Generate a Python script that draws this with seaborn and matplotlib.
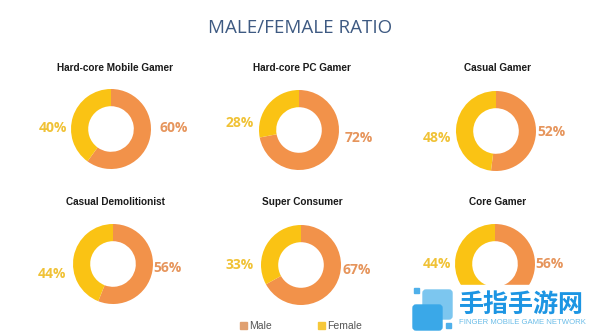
import matplotlib
matplotlib.use("Agg")
import matplotlib.pyplot as plt
import matplotlib.patches as mpatches
import seaborn as sns

# ---- data ----
segments = ["Hard-core Mobile Gamer", "Hard-core PC Gamer", "Casual Gamer",
            "Casual Demolitionist", "Super Consumer", "Core Gamer"]
male_pct = [60, 72, 52, 56, 67, 56]
female_pct = [40, 28, 48, 44, 33, 44]
series = ["Male", "Female"]
title = "MALE/FEMALE RATIO"

sns.set_theme(style="white")
plt.rcParams['font.family'] = ['Open Sans', 'DejaVu Sans']

W, H = 600, 336
fig = plt.figure(figsize=(W / 100, H / 100), dpi=100)
fig.patch.set_facecolor("white")

pal = sns.color_palette(["#F2924A", "#FAC314"])
label_cols = ["#E6955C", "#F0C236"]

# layout (pixels): donut centres, title positions, label offsets
centres = [(111, 129), (299, 130), (496, 131), (113, 264), (301, 265), (495, 264)]
title_pos = [(115, 68), (302, 68), (498, 68), (115, 202), (302, 202), (498, 202)]
offsets = [((-58, -1), (63, -1)), ((-59, -7), (60, 8)), ((-59, 7), (55, 1)),
           ((-61, 10), (54, 4)), ((-61, 0), (56, 5)), ((-58, 0), (55, 0))]
R = 40.0

def fx(x):
    return x / W

def fy(y):
    return 1 - y / H

fig.text(fx(300), fy(28), title, ha="center", va="center", fontsize=13.5,
         color="#3E5A82")

for i, seg in enumerate(segments):
    cx, cy = centres[i]
    aw, ah = 4 * R, 2.5 * R
    ax = fig.add_axes([fx(cx - aw / 2), fy(cy + ah / 2), aw / W, ah / H])
    ax.pie([male_pct[i], female_pct[i]], colors=pal, startangle=90,
           counterclock=False, radius=1,
           wedgeprops=dict(width=0.43, edgecolor="none"))
    ax.set_xlim(-2, 2)
    ax.set_ylim(-1.25, 1.25)
    ax.set_aspect("equal")
    ax.axis("off")
    (fdx, fdy), (mdx, mdy) = offsets[i]
    ax.text(mdx / R, -mdy / R, f"{male_pct[i]}%", ha="center", va="center",
            fontsize=10, fontweight="bold", color=label_cols[0])
    ax.text(fdx / R, -fdy / R, f"{female_pct[i]}%", ha="center", va="center",
            fontsize=10, fontweight="bold", color=label_cols[1])
    tx, ty = title_pos[i]
    fig.text(fx(tx), fy(ty), seg, ha="center", va="center", fontsize=7.2,
             fontweight="bold", color="#1a1a1a", family=["Liberation Sans"])

# legend
handles = [mpatches.Patch(color=c, label=s) for c, s in zip(["#E0A070", "#F6C83A"], series)]
leg = fig.legend(handles=handles, loc="center", bbox_to_anchor=(fx(301), fy(326)),
                 ncol=2, frameon=False, handlelength=0.6, handleheight=0.6,
                 handletextpad=0.2, columnspacing=4.5,
                 prop=dict(family="Liberation Sans", size=7.5))
for t in leg.get_texts():
    t.set_color("#555555")

# watermark
wm = fig.add_axes([0, 0, 1, 1], zorder=10)
wm.set_xlim(0, W)
wm.set_ylim(H, 0)
wm.axis("off")
wm.patch.set_alpha(0)
wm.add_patch(mpatches.Rectangle((405, 285), 195, 51, color="white", zorder=1))
wm.add_patch(mpatches.FancyBboxPatch((423, 290), 29, 29, boxstyle="round,pad=0,rounding_size=3",
                                     color="#7CC6EF", zorder=2))
wm.add_patch(mpatches.FancyBboxPatch((413, 305), 29, 25, boxstyle="round,pad=0,rounding_size=3",
                                     color="#3AA8E8", zorder=3))
wm.add_patch(mpatches.Rectangle((414, 288), 5, 5, color="#4FB0EA", zorder=3))
wm.add_patch(mpatches.Rectangle((446, 323), 5, 5, color="#4FB0EA", zorder=3))
wm.text(521, 305, "手指手游网", ha="center", va="center", fontsize=18,
        fontweight="bold", color="#1C95E3",
        family=["Noto Sans CJK SC", "DejaVu Sans"], zorder=4)
wm.text(522, 323, "FINGER MOBILE GAME NETWORK", ha="center", va="center",
        fontsize=5.6, color="#6BBDE8", family=["Liberation Sans"], zorder=4)

fig.savefig("out.png", dpi=100, facecolor="white")
